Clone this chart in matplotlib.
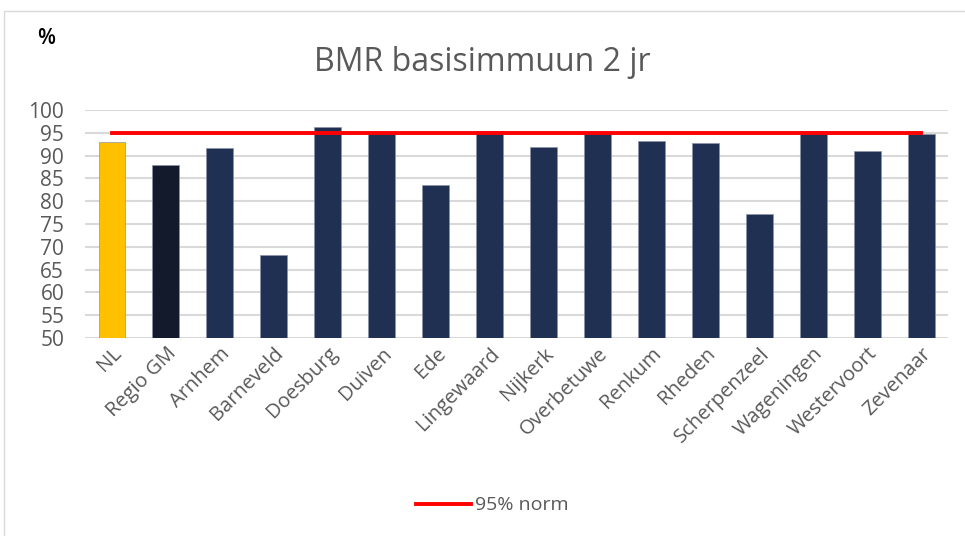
import matplotlib.pyplot as plt
from matplotlib.patches import Rectangle

plt.rcParams['font.family'] = ['Open Sans', 'DejaVu Sans']

categories = ['NL', 'Regio GM', 'Arnhem', 'Barneveld', 'Doesburg', 'Duiven', 'Ede',
              'Lingewaard', 'Nijkerk', 'Overbetuwe', 'Renkum', 'Rheden',
              'Scherpenzeel', 'Wageningen', 'Westervoort', 'Zevenaar']
values = [93.0, 88.0, 91.7, 68.2, 96.3, 95.1, 83.5, 95.3, 91.9, 95.2, 93.1, 92.8,
          77.2, 95.3, 90.9, 94.7]
norm = [95] * len(categories)

colors = ['#FFC000', '#131A2B'] + ['#203052'] * (len(categories) - 2)
grey = '#595959'

fig = plt.figure(figsize=(9.65, 5.36), dpi=100)
ax = fig.add_axes([0.0881, 0.3694, 0.8943, 0.4254])

# outer chart border
fig.patches.append(Rectangle((0.004, -0.01), 1.0, 0.99, transform=fig.transFigure,
                             fill=False, edgecolor='#D9D9D9', lw=1))

x = range(len(categories))
ax.bar(x, values, width=0.5, color=colors, edgecolor='#8A93A8', linewidth=0.5, zorder=2)
ax.plot(x, norm, color='#FF0000', lw=2.8, label='95% norm', zorder=3)

ax.set_ylim(50, 100)
ax.set_xlim(-0.5, len(categories) - 0.5)
ax.set_yticks(range(50, 101, 5))
ax.yaxis.grid(True, color='#D9D9D9', lw=1.5, zorder=0)
ax.set_axisbelow(True)
for s in ax.spines.values():
    s.set_visible(False)
ax.tick_params(length=0, colors=grey)
ax.tick_params(axis='y', pad=15, labelsize=15)
ax.tick_params(axis='x', pad=4, labelsize=14.5)
ax.set_xticks(list(x))
ax.set_xticklabels(categories, rotation=45, ha='right', rotation_mode='anchor')

fig.text(0.5, 0.884, 'BMR basisimmuun 2 jr', ha='center', va='center', fontsize=23, color=grey)
fig.text(0.038, 0.928, '%', ha='left', va='center', fontsize=15, color='#000000',
         weight='semibold')

fig.legend(loc='center', bbox_to_anchor=(0.51, 0.057), frameon=False, fontsize=14,
           labelcolor=grey, handlelength=2.8, handletextpad=0.2)

fig.savefig('out.png', dpi=100)
